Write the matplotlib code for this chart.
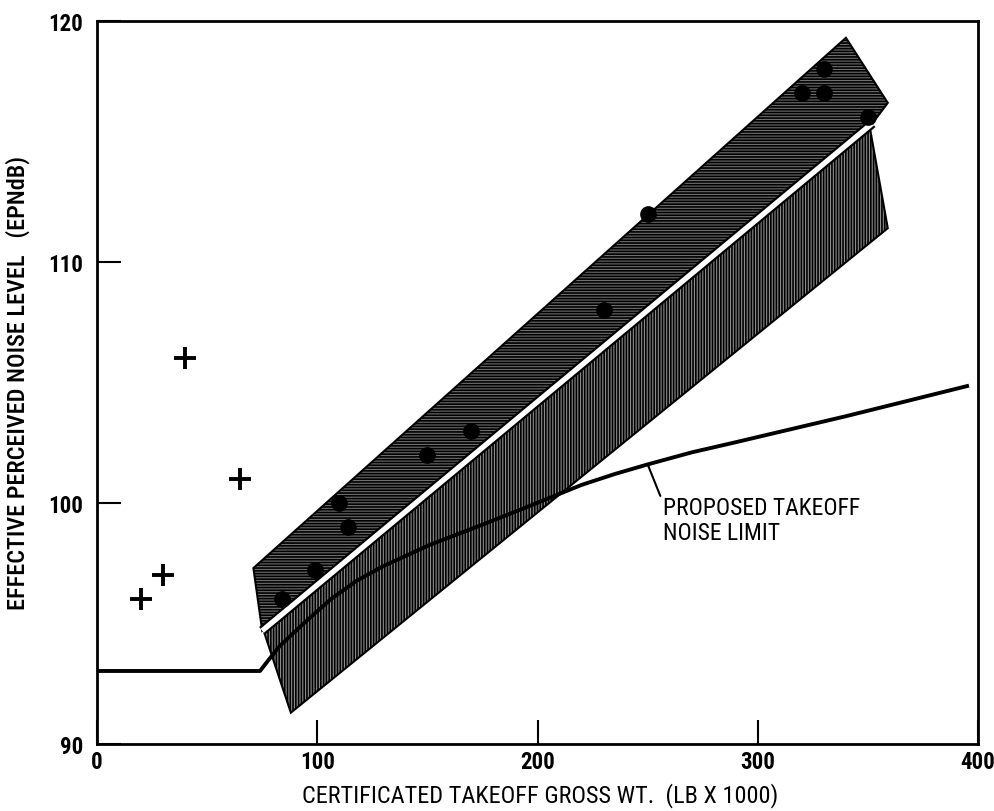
import numpy as np
import matplotlib.pyplot as plt

plt.rcParams['font.family'] = ['Roboto Condensed', 'DejaVu Sans']
plt.rcParams['hatch.linewidth'] = 1.2

# measured aircraft (certificated weight, EPNdB)
jet_wt = [84, 99, 110, 114, 150, 170, 230, 250, 320, 330, 330, 350]
jet_epn = [96.0, 97.2, 100.0, 99.0, 102.0, 103.0, 108.0, 112.0, 117.0, 118.0, 117.0, 116.0]

# light aircraft shown with crosses
light_wt = [20, 30, 40, 65]
light_epn = [96.0, 97.0, 106.0, 101.0]

# proposed takeoff noise limit
limit_wt = [0, 74, 78, 83, 95, 106, 118, 130, 151, 175, 197, 220, 235, 250, 270, 289, 340, 395]
limit_epn = [93.03, 93.03, 93.5, 94.07, 95.1, 96.0, 96.78, 97.38, 98.26, 99.1, 99.9, 100.75,
             101.2, 101.6, 102.1, 102.5, 103.6, 104.85]

# trend line and scatter bands around it
trend_wt = [75, 352]
trend_epn = [94.7, 115.75]
upper_band = [(71, 97.3), (340, 119.3), (359, 116.6), (352, 115.75), (75, 94.7)]
lower_band = [(76, 94.6), (351, 115.5), (359, 111.4), (88, 91.3)]

fig = plt.figure(figsize=(9.95, 8.12), dpi=100)
ax = fig.add_axes([0.0975, 0.0825, 0.8855, 0.8905])

ux, uy = zip(*upper_band)
lx, ly = zip(*lower_band)
ax.fill(lx, ly, facecolor='#8c8c8c', edgecolor='black', hatch='||||||', linewidth=1.5, zorder=1)
ax.fill(ux, uy, facecolor='#6e6e6e', edgecolor='black', hatch='------', linewidth=1.5, zorder=2)

ax.plot(trend_wt, trend_epn, color='black', linewidth=7, solid_capstyle='butt', zorder=3)
ax.plot(trend_wt, trend_epn, color='white', linewidth=3.8, solid_capstyle='butt', zorder=4)

ax.plot(limit_wt, limit_epn, color='black', linewidth=2.8, zorder=5)

ax.plot(jet_wt, jet_epn, 'o', color='black', markersize=11, zorder=6)
ax.plot(light_wt, light_epn, '+', color='black', markersize=16, markeredgewidth=2.8, zorder=6)

ax.annotate('PROPOSED TAKEOFF\nNOISE LIMIT', xy=(250, 101.6), xytext=(257, 99.3),
            fontsize=17, va='center', ha='left', linespacing=1.15,
            arrowprops=dict(arrowstyle='-', color='black', linewidth=1.5,
                            shrinkA=0, shrinkB=0, relpos=(-0.01, 0.95)))

ax.set_xlim(0, 400)
ax.set_ylim(90, 120)
ax.set_xticks([0, 100, 200, 300, 400])
ax.set_yticks([90, 100, 110, 120])
ax.tick_params(direction='in', length=17, width=1.5, labelsize=16.5)
ax.tick_params(axis='y', pad=10)
ax.tick_params(axis='x', pad=4)
for lab in ax.get_xticklabels() + ax.get_yticklabels():
    lab.set_fontweight('bold')
for sp in ax.spines.values():
    sp.set_linewidth(2)

ax.set_xlabel('CERTIFICATED TAKEOFF GROSS WT.  (LB X 1000)', fontsize=17.5)
ax.set_ylabel('EFFECTIVE PERCEIVED NOISE LEVEL   (EPNdB)', fontsize=17.5, fontweight='medium')
ax.xaxis.set_label_coords(0.503, -0.052)
ax.yaxis.set_label_coords(-0.076, 0.5)

fig.savefig('out.png', dpi=100)
